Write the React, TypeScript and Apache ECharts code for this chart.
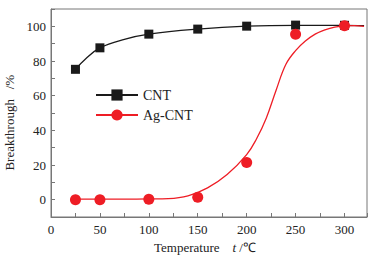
import React, { useEffect, useRef } from "react";
import * as echarts from "echarts";

const cntPoints: [number, number][] = [
  [25, 75.2], [50, 87.6], [100, 95.5], [150, 98.4], [200, 100.1], [250, 100.7], [300, 100.6],
];
const agPoints: [number, number][] = [
  [25, 0], [50, 0], [100, 0.3], [150, 1.4], [200, 21.5], [250, 95.4], [300, 100.3],
];
const cntCurve: [number, number][] = [
  [25, 75.2], [35, 81], [50, 87.6], [75, 92.5], [100, 95.5], [150, 98.4], [200, 100.1],
  [250, 100.6], [300, 100.6], [320, 100.4],
];
const agCurve: [number, number][] = [
  [25, 0.3], [50, 0.3], [75, 0.3], [100, 0.4], [120, 0.6], [140, 2.2], [160, 6.8],
  [180, 14.5], [200, 26], [210, 35], [220, 47], [230, 63], [240, 78], [250, 86],
  [260, 91.5], [270, 95.5], [280, 98], [290, 99.6], [300, 100.3], [310, 100.4], [320, 100],
];
const yLabels = [0, 20, 40, 60, 80, 100];

const RED = "#ee1d25";
const BLACK = "#1a1a1a";
const FONT = "Liberation Serif";
const NB = "\u00a0";

export default function App() {
  const ref = useRef<HTMLDivElement>(null);
  useEffect(() => {
    document.body.style.margin = "0";
    const chart = echarts.init(ref.current!, null, { renderer: "svg" });
    chart.setOption({
      animation: false,
      textStyle: { fontFamily: FONT },
      grid: {
        left: 51, right: 8, top: 9, bottom: 39, show: true, borderColor: "#777", borderWidth: 1,
        outerBoundsMode: "none", containLabel: false,
      },
      legend: {
        left: 90, top: 83, orient: "vertical", itemGap: 6, itemWidth: 42, itemHeight: 14,
        textStyle: { fontFamily: FONT, fontSize: 14, color: "#222" },
        data: ["CNT", "Ag-CNT"],
      },
      xAxis: {
        type: "value", min: 0, max: 323, interval: 50,
        name: "{a|Temperature}" + NB.repeat(4) + "{b|t}" + NB + "/℃", nameLocation: "middle", nameGap: 23,
        nameTextStyle: {
          fontFamily: FONT, fontSize: 13, color: "#222", padding: [0, 8, 0, 0],
          rich: { a: { fontFamily: FONT, fontSize: 13, color: "#222" }, b: { fontFamily: FONT, fontSize: 13, fontStyle: "italic", color: "#222" } },
        },
        axisLine: { onZero: false, lineStyle: { color: "#777" } },
        axisTick: { inside: true, length: 4, lineStyle: { color: "#777" } },
        minorTick: { show: true, splitNumber: 2, length: 4, lineStyle: { color: "#777" } },
        axisLabel: { fontFamily: FONT, fontSize: 13, color: "#222", margin: 6, showMaxLabel: false },
        splitLine: { show: false },
      },
      yAxis: {
        type: "value", min: -10, max: 110, interval: 10,
        name: "Breakthrough" + NB.repeat(3) + "/%" + NB.repeat(6), nameLocation: "middle", nameGap: 22,
        nameTextStyle: { fontFamily: FONT, fontSize: 13, color: "#222" },
        axisLine: { onZero: false, lineStyle: { color: "#777" } },
        axisTick: { inside: true, length: 4, lineStyle: { color: "#777" } },
        axisLabel: {
          fontFamily: FONT, fontSize: 13, color: "#222", margin: 5,
          formatter: (v: number) => (yLabels.indexOf(v) >= 0 ? String(v) : ""),
        },
        splitLine: { show: false },
      },
      series: [
        {
          name: "CNT", type: "line", data: cntCurve, smooth: 0.4, showSymbol: false, symbol: "rect", symbolSize: 9,
          lineStyle: { color: BLACK, width: 1.3 }, itemStyle: { color: BLACK }, z: 2,
        },
        {
          name: "Ag-CNT", type: "line", data: agCurve, smooth: 0.4, showSymbol: false, symbol: "circle", symbolSize: 11,
          lineStyle: { color: RED, width: 1.3 }, itemStyle: { color: RED }, z: 2,
        },
        {
          name: "CNT", type: "scatter", data: cntPoints, symbol: "rect", symbolSize: 9,
          itemStyle: { color: BLACK, opacity: 1 }, z: 3,
        },
        {
          name: "Ag-CNT", type: "scatter", data: agPoints, symbol: "circle", symbolSize: 11,
          itemStyle: { color: RED, opacity: 1 }, z: 4,
        },
      ],
    });
    return () => chart.dispose();
  }, []);
  return <div ref={ref} style={{ width: 375, height: 256 }} />;
}
